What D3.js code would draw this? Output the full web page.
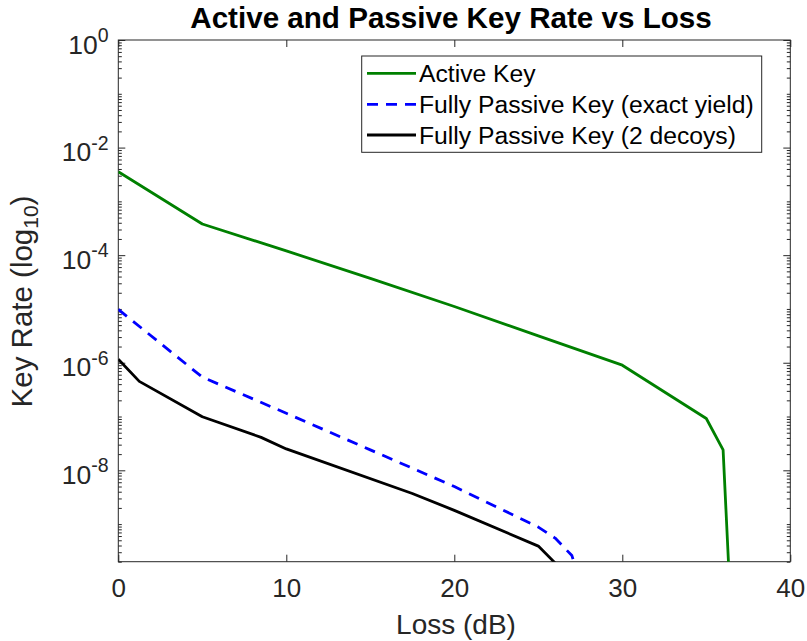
<!DOCTYPE html>
<html>
<head>
<meta charset="utf-8">
<script src="https://cdn.jsdelivr.net/npm/d3@7"></script>
<style>
  html, body { margin: 0; padding: 0; background: #fff; }
  svg { display: block; font-family: "Liberation Sans", Arial, Helvetica, sans-serif; }
</style>
</head>
<body>
<svg id="chart" width="807" height="641"></svg>
<script>
// Loss in dB and secure key rate for each protocol
const lossActive = [0, 5, 10, 15, 20, 25, 30, 35, 36, 36.5];
const rateActive = [3.55e-3, 3.8e-4, 1.2e-4, 3.7e-5, 1.11e-5, 3.15e-6, 9.0e-7, 9.2e-8, 2.4e-8, 1.3e-11];

const lossExact = [0, 5, 10, 15, 20, 25, 26, 27, 27.5];
const rateExact = [9.8e-6, 5.4e-7, 1.15e-7, 2.4e-8, 5.0e-9, 8.8e-10, 5.5e-10, 2.6e-10, 8e-11];

const lossDecoy = [0, 1.25, 5, 8.5, 10, 17.5, 20, 25, 26];
const rateDecoy = [1.16e-6, 4.5e-7, 9.9e-8, 4.1e-8, 2.5e-8, 3.7e-9, 1.8e-9, 3.9e-10, 1.9e-10];

const seriesNames = ["Active Key", "Fully Passive Key (exact yield)", "Fully Passive Key (2 decoys)"];
const xTickValues = [0, 10, 20, 30, 40];
const yTickExponents = [0, -2, -4, -6, -8];

const series = [
  { name: seriesNames[0], loss: lossActive, rate: rateActive, color: "#008000", dash: null },
  { name: seriesNames[1], loss: lossExact, rate: rateExact, color: "#0000ff", dash: "11,8" },
  { name: seriesNames[2], loss: lossDecoy, rate: rateDecoy, color: "#000000", dash: null }
];

const axisColor = "#262626";
const plotL = 118.3, plotR = 790.3, plotT = 40, plotB = 561.7;

const svg = d3.select("#chart");

const x = d3.scaleLinear().domain([0, 40]).range([plotL, plotR]);
const y = d3.scaleLog().domain([2e-10, 1]).range([plotB, plotT]);

// clip region for the curves
svg.append("defs").append("clipPath").attr("id", "plot-clip")
  .append("rect").attr("x", plotL).attr("y", plotT)
  .attr("width", plotR - plotL).attr("height", plotB - plotT);

// minor log ticks (2..9 per decade plus the unlabelled odd decades)
const minorTicks = [];
for (let k = -10; k <= -1; k++) {
  for (let m = 2; m <= 9; m++) {
    const v = m * Math.pow(10, k);
    if (v >= 2e-10 && v <= 1) minorTicks.push(v);
  }
  if (k % 2 !== 0 && Math.pow(10, k) >= 2e-10) minorTicks.push(Math.pow(10, k));
}
const majorTicks = yTickExponents.map(e => Math.pow(10, e));

function styleAxis(g) {
  g.selectAll("path.domain").remove();
  g.selectAll(".tick line").attr("stroke", axisColor).attr("stroke-width", 1);
  g.selectAll(".tick text").remove();
}

// left and right y ticks, pointing inward
svg.append("g").attr("transform", `translate(${plotL},0)`)
  .call(d3.axisLeft(y).tickValues(minorTicks).tickSize(-3.5).tickFormat(""))
  .call(styleAxis);
svg.append("g").attr("transform", `translate(${plotL},0)`)
  .call(d3.axisLeft(y).tickValues(majorTicks).tickSize(-7).tickFormat(""))
  .call(styleAxis);
svg.append("g").attr("transform", `translate(${plotR},0)`)
  .call(d3.axisRight(y).tickValues(minorTicks).tickSize(-3.5).tickFormat(""))
  .call(styleAxis);
svg.append("g").attr("transform", `translate(${plotR},0)`)
  .call(d3.axisRight(y).tickValues(majorTicks).tickSize(-7).tickFormat(""))
  .call(styleAxis);

// bottom and top x ticks, pointing inward
const xBottom = svg.append("g").attr("transform", `translate(0,${plotB})`)
  .call(d3.axisBottom(x).tickValues(xTickValues).tickSize(-7).tickFormat(d3.format("d")));
xBottom.select("path.domain").remove();
xBottom.selectAll(".tick line").attr("stroke", axisColor);
xBottom.selectAll(".tick text")
  .attr("y", 35.5).attr("dy", null)
  .attr("fill", axisColor)
  .style("font-size", "26px")
  .style("font-family", "'Liberation Sans', Arial, sans-serif");

svg.append("g").attr("transform", `translate(0,${plotT})`)
  .call(d3.axisTop(x).tickValues(xTickValues).tickSize(-7).tickFormat(""))
  .call(styleAxis);

// axes box
svg.append("rect")
  .attr("x", plotL).attr("y", plotT)
  .attr("width", plotR - plotL).attr("height", plotB - plotT)
  .attr("fill", "none").attr("stroke", axisColor).attr("stroke-width", 1);

// y tick labels as powers of ten
const yLabels = svg.append("g").attr("fill", axisColor);
yTickExponents.forEach(e => {
  const t = yLabels.append("text")
    .attr("x", 108.5)
    .attr("y", y(Math.pow(10, e)) + 13.5)
    .attr("text-anchor", "end")
    .style("font-size", "26.5px");
  t.append("tspan").text("10");
  t.append("tspan").attr("dy", -11.5).style("font-size", "19.5px")
    .text(e === 0 ? "0" : "-" + Math.abs(e));
});

// curves
const line = d3.line()
  .x(d => x(d[0]))
  .y(d => y(d[1]));

const curves = svg.append("g").attr("clip-path", "url(#plot-clip)");
series.forEach(s => {
  curves.append("path")
    .datum(d3.zip(s.loss, s.rate))
    .attr("d", line)
    .attr("fill", "none")
    .attr("stroke", s.color)
    .attr("stroke-width", 2.8)
    .attr("stroke-linejoin", "round")
    .attr("stroke-dasharray", s.dash);
});

// title and axis labels
svg.append("text")
  .attr("x", 451).attr("y", 27.5)
  .attr("text-anchor", "middle")
  .style("font-size", "29.6px").style("font-weight", "bold")
  .attr("fill", "#000")
  .text("Active and Passive Key Rate vs Loss");

svg.append("text")
  .attr("x", 456).attr("y", 633.5)
  .attr("text-anchor", "middle")
  .attr("fill", axisColor)
  .style("font-size", "28px")
  .text("Loss (dB)");

const yTitle = svg.append("text")
  .attr("transform", "translate(31.5,301.5) rotate(-90)")
  .attr("text-anchor", "middle")
  .attr("fill", axisColor)
  .style("font-size", "29.5px");
yTitle.append("tspan").text("Key Rate (log");
yTitle.append("tspan").attr("dy", 6).style("font-size", "21px").text("10");
yTitle.append("tspan").attr("dy", -6).text(")");

// legend
const legend = svg.append("g");
legend.append("rect")
  .attr("x", 361.7).attr("y", 56)
  .attr("width", 400).attr("height", 96.3)
  .attr("fill", "#fff").attr("stroke", axisColor).attr("stroke-width", 1);

const legendRows = [73.3, 104.3, 135];
series.forEach((s, i) => {
  const ly = legendRows[i];
  legend.append("line")
    .attr("x1", 367).attr("x2", 416)
    .attr("y1", ly).attr("y2", ly)
    .attr("stroke", s.color).attr("stroke-width", 2.8)
    .attr("stroke-dasharray", s.dash);
  legend.append("text")
    .attr("x", 419).attr("y", ly + 8.6)
    .attr("fill", "#000")
    .style("font-size", "24.7px")
    .text(s.name);
});
</script>
</body>
</html>
